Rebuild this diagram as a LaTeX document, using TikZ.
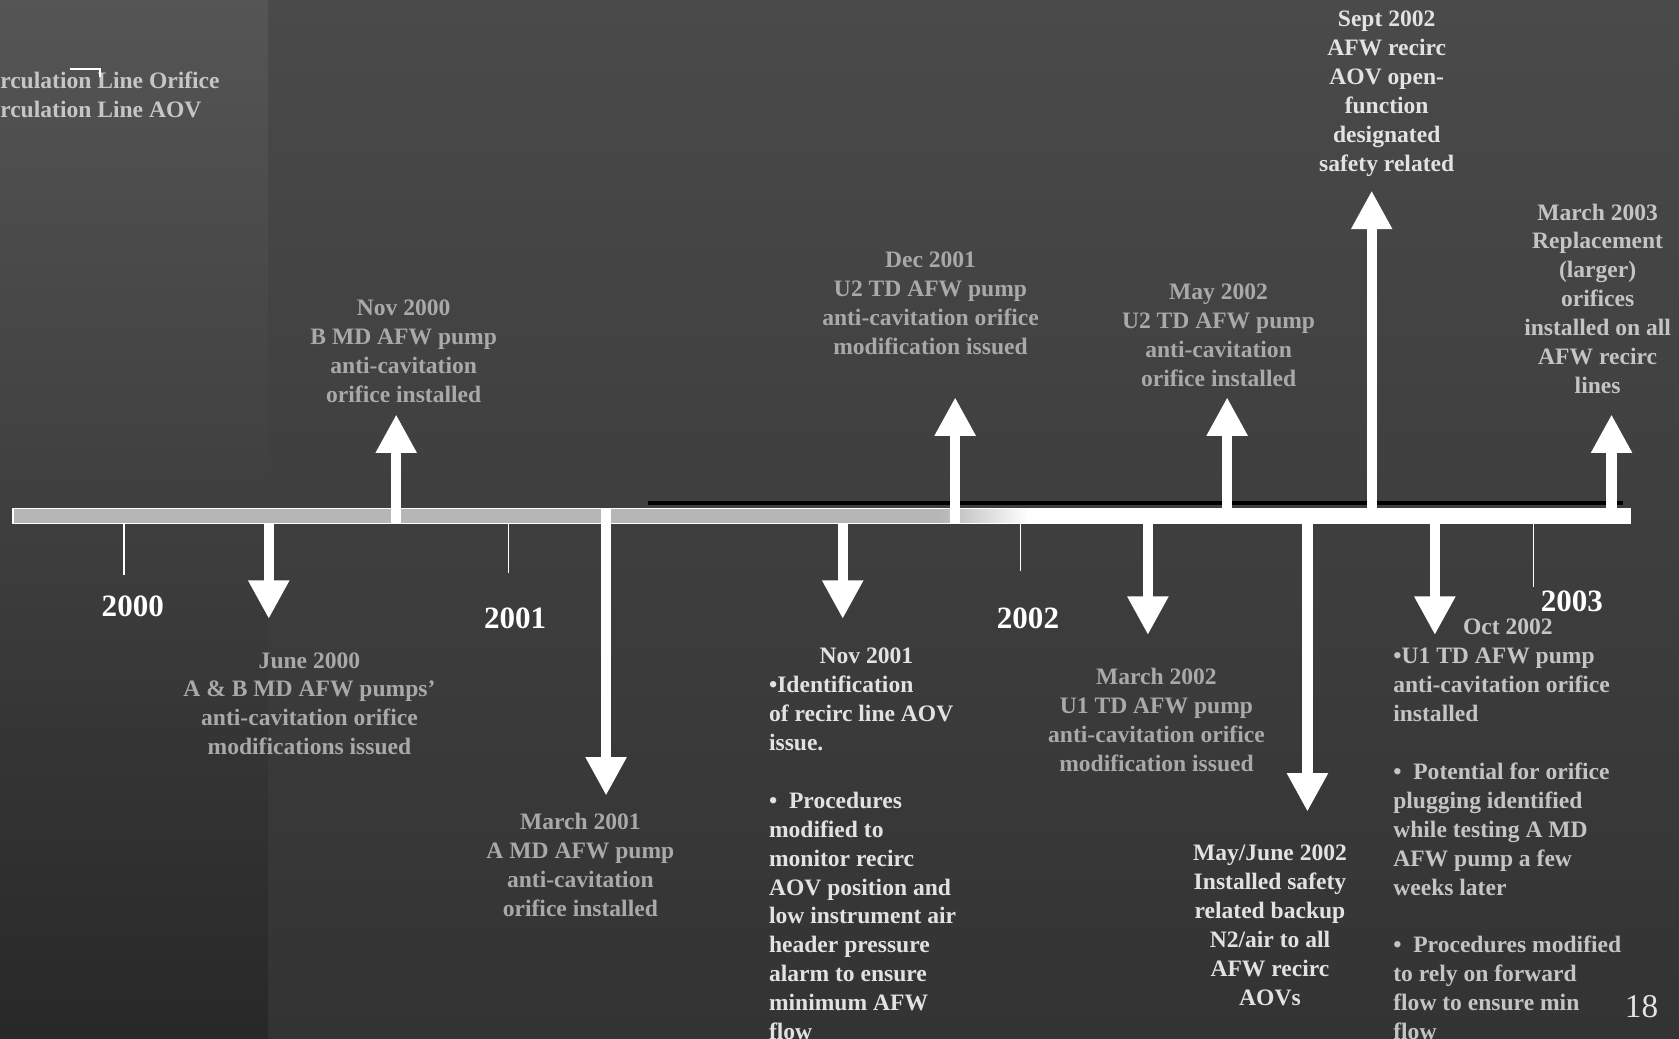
\documentclass[tikz,border=0pt]{standalone}
\usepackage{fontspec}
\setmainfont{Liberation Serif}
\usepackage{tikz}
\usetikzlibrary{arrows.meta,positioning}
\definecolor{bgtop}{HTML}{4A4A4A}
\definecolor{bgbot}{HTML}{333333}
\definecolor{pantop}{HTML}{555555}
\definecolor{panbot}{HTML}{282828}
\definecolor{bargrey}{HTML}{B6B6B6}
\definecolor{lblgrey}{HTML}{A9A9A9}
\definecolor{lbllight}{HTML}{C4C4C4}
\definecolor{lblwhite}{HTML}{E2E2E2}
\definecolor{legtext}{HTML}{C6C6C6}
\pgfdeclarehorizontalshading{barshade}{100bp}{color(0bp)=(bargrey); color(53.7bp)=(bargrey); color(56.4bp)=(white); color(100bp)=(white)}

\begin{document}
\begin{tikzpicture}[x=1pt, y=-1pt,
        lbl/.style={font=\bfseries\fontsize{22}{27}\selectfont, align=center, inner sep=0pt, anchor=north, text=lblgrey},
        yearlbl/.style={font=\bfseries\fontsize{29}{34}\selectfont, text=white, inner sep=0pt},
        evarrow/.style={draw=white, line width=9.5pt, -{Triangle[width=36pt,length=36pt]}},
        tickline/.style={draw=white, line width=1.4pt}]

                \useasboundingbox (0,0) rectangle (1568,970);
                \shade[top color=bgtop, bottom color=bgbot] (0,0) rectangle (1568,970);
                \shade[top color=pantop, bottom color=panbot] (0,0) rectangle (250,970);

                % legend, cut at the left edge
                \node[lbl, anchor=north west, text=legtext] (legorif) at (-41.5,67) {Recirculation Line Orifice};
                \node[lbl, anchor=north west, text=legtext] (legaov) at (-41.5,94) {Recirculation Line AOV};
                \draw[white, line width=2pt] (65,64.5) -- (93,64.5) -- (93,72);

                % time line
                \node[draw=white, line width=1.5pt, shade, shading=barshade, minimum width=1510pt, minimum height=14pt, inner sep=0pt] (bar) at (767,482) {};
                \draw[black, line width=3.5pt] (605,470) -- (1516,470);

                \foreach \x/\l in {116/537, 475/535, 953/533, 1432/548}{
                    \draw[tickline] (\x,489) -- (\x,\l);
                }

                \foreach \yr/\x/\y in {2000/124/566, 2001/481/577, 2002/960/577, 2003/1468/562}{
                    \node[yearlbl] (y\yr) at (\x,\y) {\yr};
                }

                \foreach \n/\x/\y/\s in {nov00/370/387/south, jun00/251/578/south, mar01/566/743/north,
                                        nov01/787/578/south, dec01/892/371/south, mar02/1072/593/south,
                                        may02/1146/371/south, mayjun02/1221/758/south, sep02/1281/178/south,
                                        oct02/1340/593/south, mar03/1505/387/south}{
                    \coordinate (tip\n) at (\x,\y);
                    \draw[evarrow] (bar.\s -| tip\n) -- (tip\n);
                }

                % events above the line
                \node[lbl] (nov00) at (377,280) {Nov 2000\\B MD AFW pump\\anti-cavitation\\orifice installed};
                \node[lbl] (dec01) at (869,235) {Dec 2001\\U2 TD AFW pump\\anti-cavitation orifice\\modification issued};
                \node[lbl] (may02) at (1138,265) {May 2002\\U2 TD AFW pump\\anti-cavitation\\orifice installed};
                \node[lbl, text=lblwhite] (sep02) at (1295,10) {Sept 2002\\AFW recirc\\AOV open-\\function\\designated\\safety related};
                \node[lbl, text=lbllight] (mar03) at (1492,190) {March 2003\\Replacement\\(larger)\\orifices\\installed on all\\AFW recirc\\lines};

                % events below the line
                \node[lbl] (jun00) at (289,609) {June 2000\\A \& B MD AFW pumps'\\anti-cavitation orifice\\modifications issued};
                \node[lbl] (mar01) at (542,759) {March 2001\\A MD AFW pump\\anti-cavitation\\orifice installed};
                \node[lbl, align=left, anchor=north west, text=lblwhite] (nov01) at (718,605) {\makebox[182pt]{Nov 2001}\\•Identification\\of recirc line AOV\\issue.\\[27pt]•\hspace{0.5em}Procedures\\modified to\\monitor recirc\\AOV position and\\low instrument air\\header pressure\\alarm to ensure\\minimum AFW\\flow};
                \node[lbl] (mar02) at (1080,624) {March 2002\\U1 TD AFW pump\\anti-cavitation orifice\\modification issued};
                \node[lbl, text=lblwhite] (mayjun02) at (1186,789) {May/June 2002\\Installed safety\\related backup\\N2/air to all\\AFW recirc\\AOVs};
                \node[lbl, align=left, anchor=north west, text=lbllight] (oct02) at (1301,578) {\makebox[214pt]{Oct 2002}\\•U1 TD AFW pump\\anti-cavitation orifice\\installed\\[27pt]•\hspace{0.5em}Potential for orifice\\plugging identified\\while testing A MD\\AFW pump a few\\weeks later\\[27pt]•\hspace{0.5em}Procedures modified\\to rely on forward\\flow to ensure min\\flow};

                \node[font=\fontsize{31}{36}\selectfont, text=lblwhite, inner sep=0pt] (pageno) at (1533,940) {18};
        \end{tikzpicture}
\end{document}
